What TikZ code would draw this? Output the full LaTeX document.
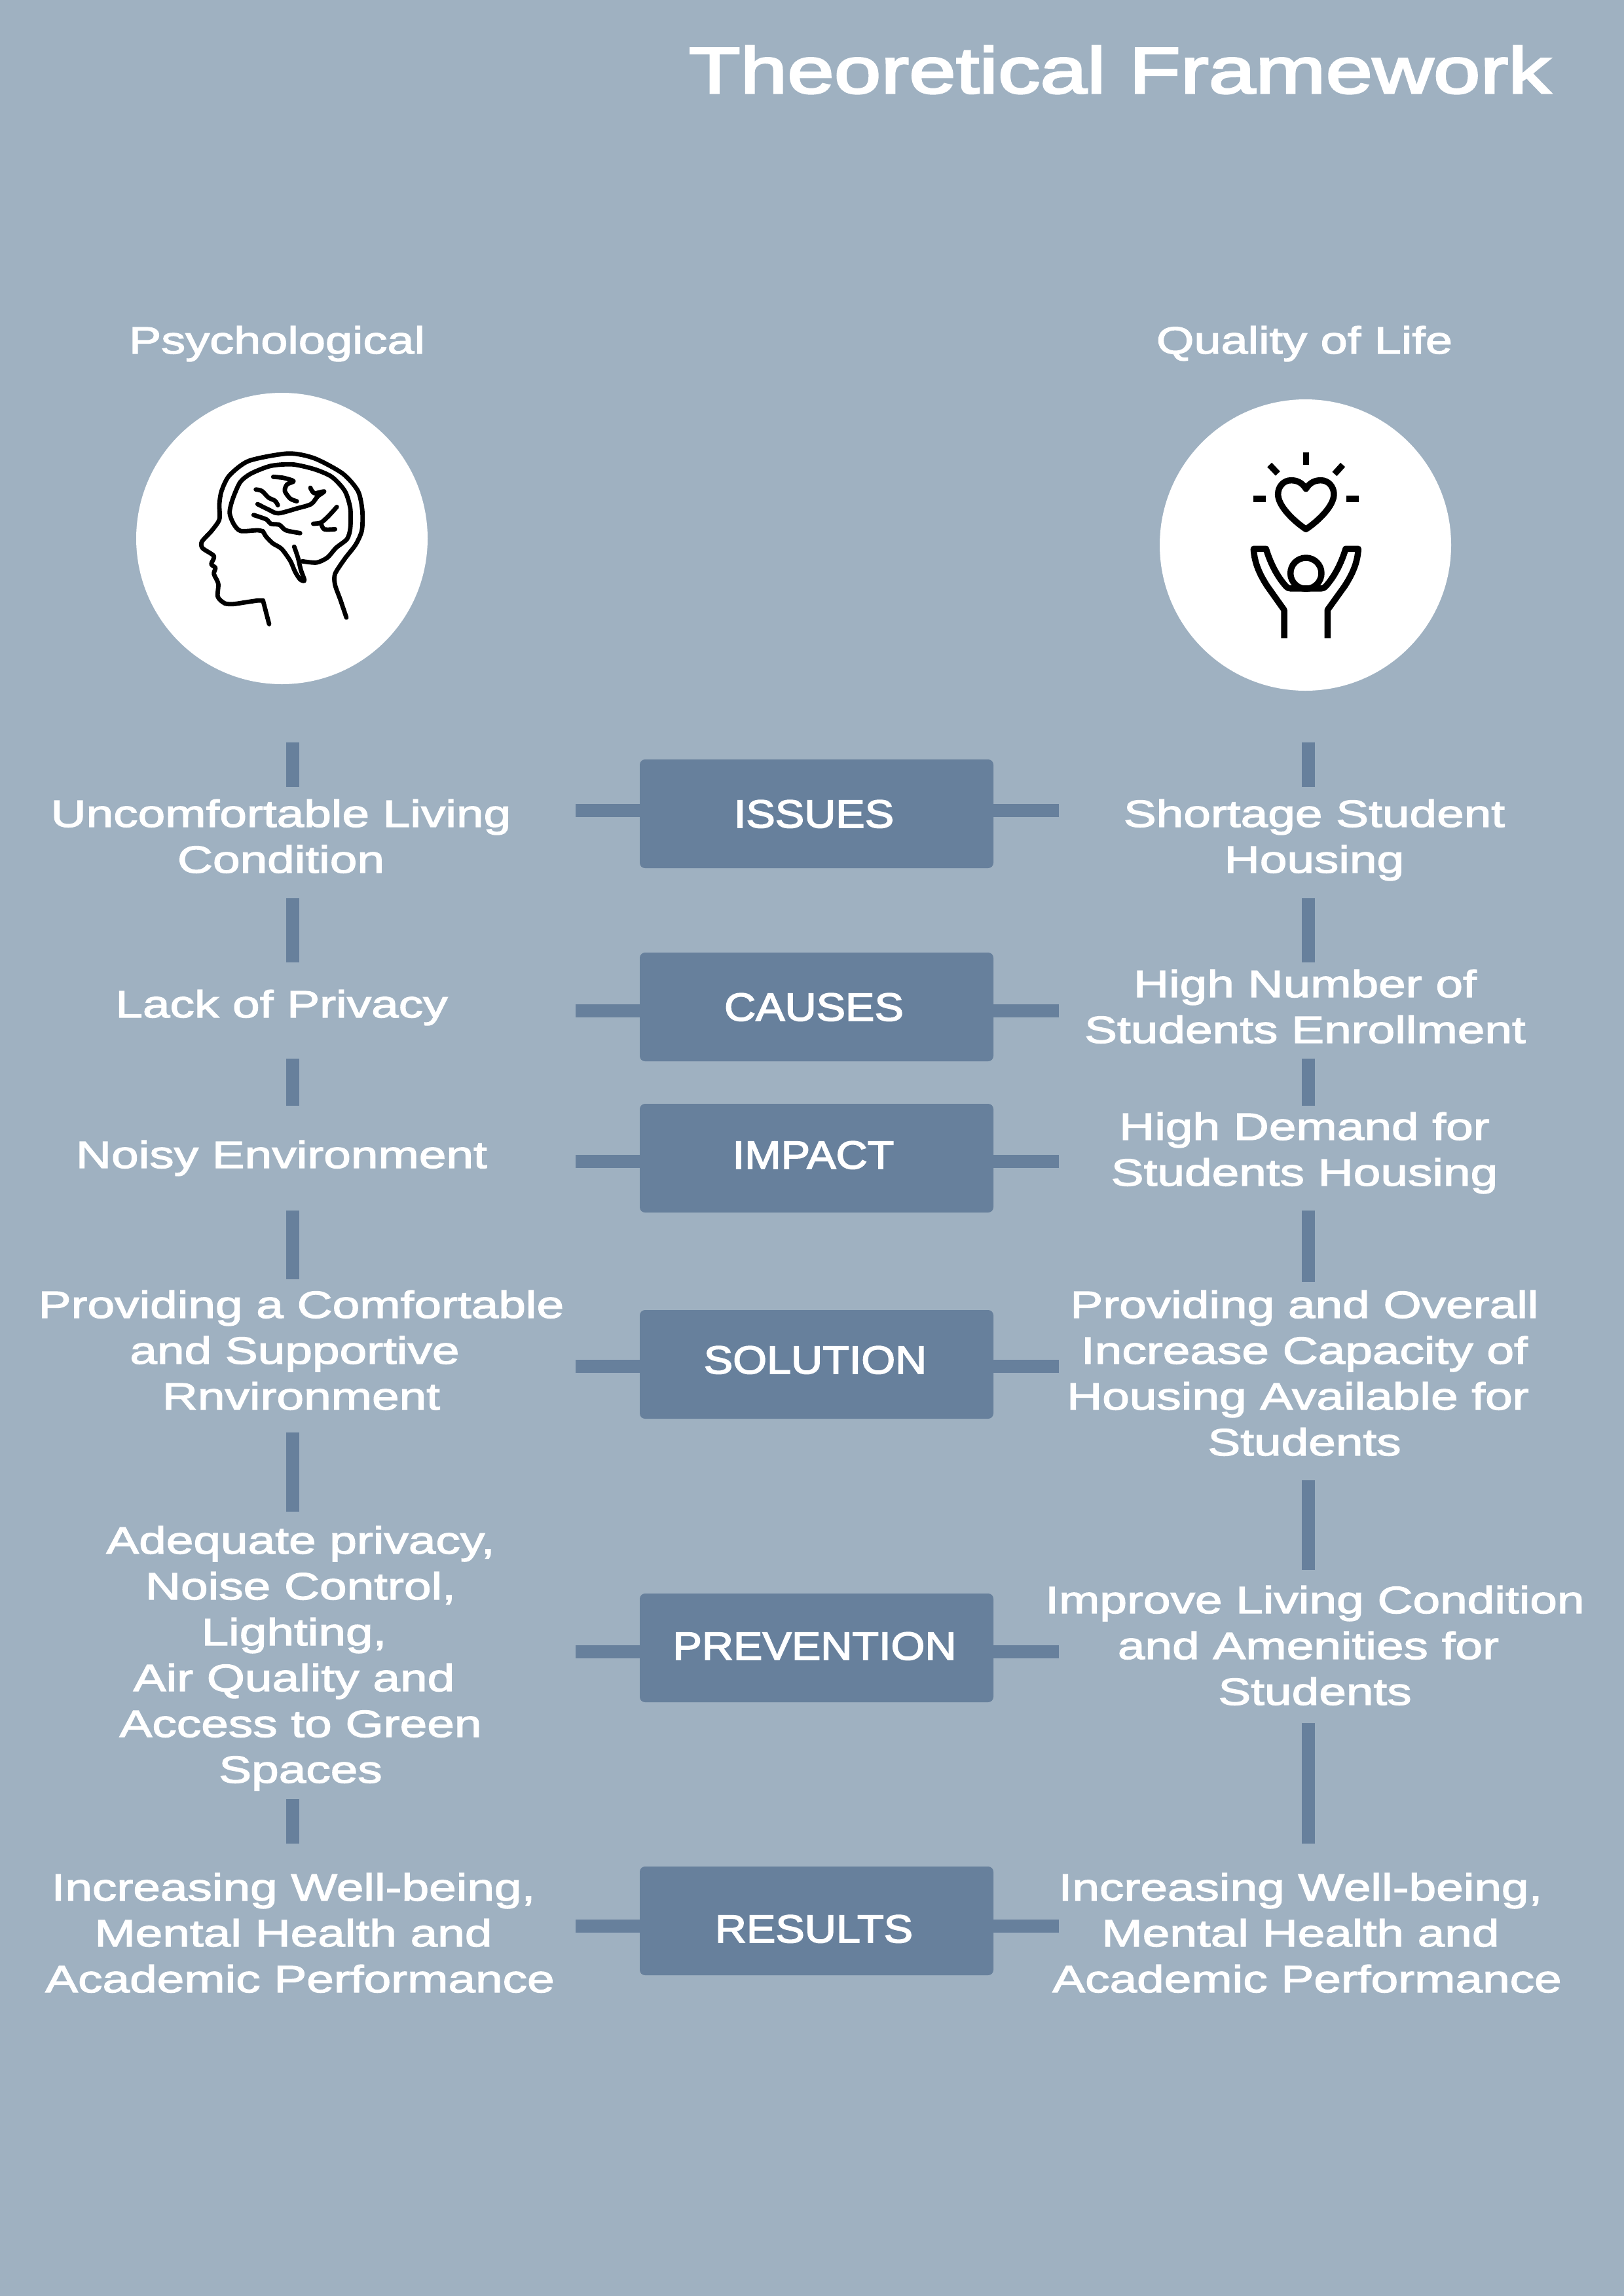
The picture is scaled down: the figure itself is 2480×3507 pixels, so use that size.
\documentclass[tikz,border=0pt]{standalone}
\usepackage{fontspec}
\setmainfont{Liberation Sans}
\newfontfamily\widefont[FakeStretch=1.29,FakeBold=2.4]{Liberation Sans}
\newfontfamily\headfont[FakeStretch=1.275,FakeBold=2.4]{Liberation Sans}
\newfontfamily\titlefont[FakeStretch=1.30,FakeBold=3.4]{Liberation Sans}
\newfontfamily\boxfont[FakeStretch=1.11,FakeBold=2.8]{Liberation Sans}
\definecolor{bgc}{HTML}{9FB1C1}
\definecolor{barc}{HTML}{67809C}
\tikzset{
  bar/.style={draw=barc,line width=20pt},
  framebox/.style={fill=barc,draw=none,rounded corners=8pt,minimum width=540pt,minimum height=166pt,inner sep=0pt},
  boxlabel/.style={anchor=base,inner sep=0pt,text=white,font=\boxfont\fontsize{60}{70}\selectfont},
  body/.style={align=center,inner sep=0pt,text=white,font=\widefont\fontsize{58}{70}\selectfont},
  heading/.style={anchor=base,inner sep=0pt,text=white,font=\headfont\fontsize{58}{70}\selectfont},
  maintitle/.style={anchor=base,inner sep=0pt,text=white,font=\titlefont\fontsize{99}{110}\selectfont},
  iconcircle/.style={circle,fill=white,draw=none,minimum size=445pt,inner sep=0pt},
  brainline/.style={draw=black,line width=6.8pt,line cap=round,line join=round},
  personline/.style={draw=black,line width=9.5pt,line join=round},
}
\newcommand{\lbl}[5]{% name, x, first baseline, number of lines, text
  \pgfmathsetmacro{\cy}{#3+(#4-1)*35-15}
  \node[body] (#1) at (#2,\cy) {\strut #5\strut};}
\newcommand{\vbar}[4]{% name, x, y1, y2
  \coordinate (#1a) at (#2,#3);
  \coordinate (#1b) at (#2,#4);
  \draw[bar] (#1a) -- (#1b);}
\newcommand{\midbox}[4]{% name, top, bottom, stub y
  \pgfmathsetmacro{\cy}{(#2+#3)/2}
  \node[framebox] (#1) at (1247,\cy) {};
  \coordinate (#1L) at (879,#4);
  \coordinate (#1R) at (1617,#4);
  \draw[bar] (#1L) -- (#1L -| #1.west);
  \draw[bar] (#1R) -- (#1R -| #1.east);}
\newcommand{\gap}{\rule{20pt}{0pt}}
\begin{document}
\begin{tikzpicture}[x=1pt,y=-1pt]
\useasboundingbox (0,0) rectangle (2480,3507);
\fill[bgc] (0,0) rectangle (2480,3507);

\node[maintitle] (title) at (1710,142) {Theoretical Framework};
\node[heading] (psy) at (423,540) {Psychological};
\node[heading] (qol) at (1992,540) {Quality of Life};

\node[iconcircle] (cleft) at (430.5,822.5) {};
\node[iconcircle] (cright) at (1993.5,832.5) {};

% brain icon, in the reference crop's pixels
\begin{scope}[shift={(180,580)},x=0.3333pt,y=-0.3333pt]
\draw[brainline] plot[smooth,tension=0.45] coordinates {(665,1012)(640,1012)(585,1020)(530,1028)(490,1025)(458,995)(460,935)(440,890)(447,862)(428,845)(440,808)(388,772)(385,742)(430,692)(465,640)(465,570)(475,510)(510,440)(600,372)(780,338)(900,360)(1030,430)(1100,510)(1120,600)(1118,690)(1090,755)(1040,820)(995,890)(995,940)(1020,1010)(1047,1090)};
\draw[brainline] (665,1012) -- (693,1120);
\draw[brainline] plot[smooth,tension=0.45] coordinates {(665,695)(640,690)(562,693)(530,660)(512,610)(525,550)(560,470)(610,430)(700,395)(800,388)(900,410)(980,445)(1040,510)(1065,590)(1065,680)(1050,730)(1000,770)(960,815)(910,838)(845,832)};
\draw[brainline] plot[smooth,tension=0.45] coordinates {(808,765)(825,815)(838,870)(855,920)(835,915)(812,880)(790,830)(750,775)(710,750)(680,720)(665,695)};
\draw[brainline] plot[smooth,tension=0.5] coordinates {(632,503)(660,510)(690,540)(720,555)(733,575)};
\draw[brainline] plot[smooth,tension=0.5] coordinates {(712,445)(760,450)(805,465)(775,480)(765,510)(790,545)(820,557)};
\draw[brainline] plot[smooth,tension=0.5] coordinates {(882,495)(900,520)(945,512)(915,535)(885,570)(820,590)(735,612)(690,595)(640,570)};
\draw[brainline] plot[smooth,tension=0.5] coordinates {(622,620)(680,640)(700,660)(740,665)(770,690)(835,703)};
\draw[brainline] plot[smooth,tension=0.5] coordinates {(1003,583)(965,625)(930,655)(895,660)};
\draw[brainline] plot[smooth,tension=0.5] coordinates {(930,655)(945,685)(995,685)};
\end{scope}

% heart and person icon, in the reference crop's pixels
\begin{scope}[shift={(1750,590)},x=0.3333pt,y=-0.3333pt]
\draw[personline] (733,303) -- (733,360);
\draw[personline] (566,360) -- (604,400);
\draw[personline] (902,360) -- (864,402);
\draw[personline] (492,516) -- (549,516);
\draw[personline] (918,516) -- (975,516);
\draw[personline] (733,655) .. controls (680,620) and (605,550) .. (605,495) .. controls (605,460) and (630,431) .. (665,431) .. controls (690,431) and (715,440) .. (733,470) .. controls (751,440) and (776,431) .. (801,431) .. controls (836,431) and (861,460) .. (861,495) .. controls (861,550) and (786,620) .. (733,655) -- cycle;
\draw[personline] (633,1155) -- (633,1025) -- (555,915) .. controls (520,860) and (497,810) .. (493,745) -- (550,745) .. controls (570,810) and (600,870) .. (640,915) .. controls (648,924) and (655,927) .. (665,927) -- (800,927) .. controls (810,927) and (817,924) .. (825,915) .. controls (865,870) and (895,810) .. (915,745) -- (973,745) .. controls (969,810) and (946,860) .. (911,915) -- (832,1025) -- (832,1155);
\draw[personline] (733,857) circle[radius=71];
\end{scope}

% left column
\lbl{l1}{429}{1264}{2}{Uncomfortable Living\\Condition}
\lbl{l2}{430}{1555}{1}{Lack of Privacy}
\lbl{l3}{430}{1785}{1}{Noisy Environment}
\lbl{l4}{460}{2014}{3}{Providing a Comfortable\\and Supportive\gap\\Rnvironment}
\lbl{l5}{459}{2374}{6}{Adequate privacy,\\Noise Control,\\Lighting,\gap\\Air Quality and\gap\\Access to Green\\Spaces}
\lbl{l6}{458}{2904}{3}{Increasing Well-being,\gap\\Mental Health and\gap\\Academic Performance}

% right column
\lbl{r1}{2007}{1264}{2}{Shortage Student\\Housing}
\lbl{r2}{1993}{1524}{2}{High Number of\\Students Enrollment}
\lbl{r3}{1992}{1742}{2}{High Demand for\\Students Housing}
\lbl{r4}{1992}{2014}{4}{Providing and Overall\\Increase Capacity of\\Housing Available for\gap\\Students}
\lbl{r5}{2008}{2465}{3}{Improve Living Condition\\and Amenities for\gap\\Students}
\lbl{r6}{1996}{2904}{3}{Increasing Well-being,\gap\\Mental Health and\gap\\Academic Performance}

% vertical bars
\vbar{va1}{447}{1134}{1202}
\vbar{va2}{447}{1372}{1470}
\vbar{va3}{447}{1617}{1689}
\vbar{va4}{447}{1849}{1954}
\vbar{va5}{447}{2188}{2309}
\vbar{va6}{447}{2748}{2816}
\vbar{vb1}{1998}{1134}{1202}
\vbar{vb2}{1998}{1372}{1470}
\vbar{vb3}{1998}{1617}{1689}
\vbar{vb4}{1998}{1849}{1958}
\vbar{vb5}{1998}{2261}{2398}
\vbar{vb6}{1998}{2632}{2816}

% centre boxes
\midbox{bi}{1160}{1326}{1238}
\midbox{bc}{1455}{1621}{1544}
\midbox{bm}{1686}{1852}{1774}
\midbox{bs}{2001}{2167}{2087}
\midbox{bp}{2434}{2600}{2523}
\midbox{br}{2851}{3017}{2942}
\node[boxlabel] (ti) at (1243,1264) {ISSUES};
\node[boxlabel] (tc) at (1243,1559) {CAUSES};
\node[boxlabel] (tm) at (1242,1785) {IMPACT};
\node[boxlabel] (ts) at (1245,2098) {SOLUTION};
\node[boxlabel] (tp) at (1244,2535) {PREVENTION};
\node[boxlabel] (tr) at (1243,2967) {RESULTS};
\end{tikzpicture}
\end{document}
